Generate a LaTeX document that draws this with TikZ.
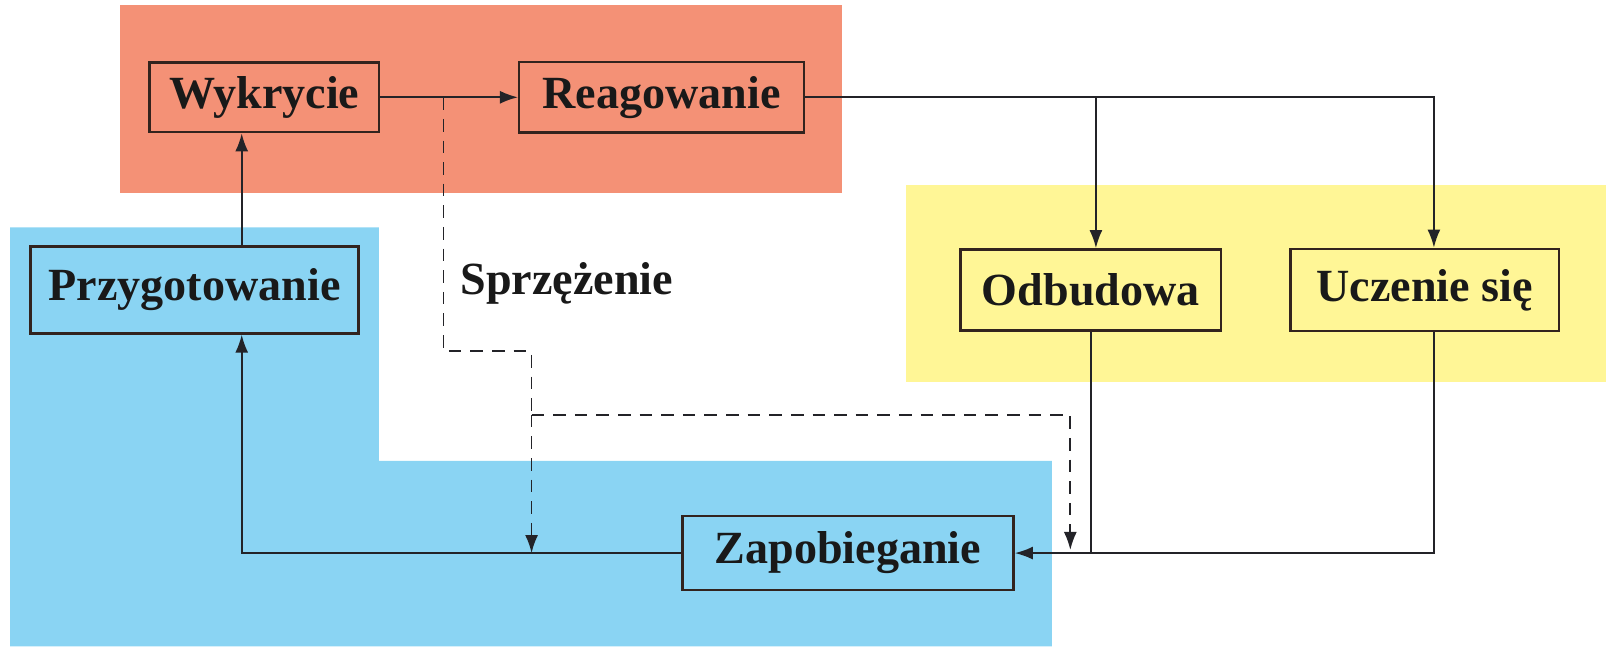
\documentclass[tikz,border=0pt]{standalone}
\usepackage{fontspec}
\setmainfont{Liberation Serif}
\usetikzlibrary{arrows.meta}
\definecolor{redbg}{RGB}{244,145,118}
\definecolor{bluebg}{RGB}{138,212,243}
\definecolor{yellowbg}{RGB}{255,246,150}
\definecolor{boxline}{RGB}{50,35,30}
\definecolor{conn}{RGB}{35,35,40}
\tikzset{
  stagebox/.style={draw=boxline, line width=0.7pt, rectangle, inner sep=0pt,
    font=\fontsize{12.8}{14}\selectfont\bfseries, text=black!90},
  link/.style={draw=conn, line width=0.5pt},
  tip/.style={-{Latex[length=5pt,width=3.6pt]}},
  fb/.style={draw=conn, line width=0.5pt, dash pattern=on 3.5pt off 2.5pt},
  lbl/.style={font=\fontsize{12.8}{14}\selectfont\bfseries, text=black!90, inner sep=0pt}
}
\begin{document}
\begin{tikzpicture}[x=0.01cm,y=-0.01cm]
\useasboundingbox (0,0) rectangle (1568,631);
% backgrounds
\fill[redbg] (117,5) rectangle (822,188);
\fill[bluebg] (10,222) -- (370,222) -- (370,450) -- (1027,450) -- (1027,631) -- (10,631) -- cycle;
\fill[yellowbg] (885,181) rectangle (1568,373);
% nodes
\node[stagebox, minimum width=2.24cm, minimum height=0.68cm] (wyk) at (258,95) {Wykrycie};
\node[stagebox, minimum width=2.78cm, minimum height=0.69cm] (rea) at (646,95) {Reagowanie};
\node[stagebox, minimum width=3.20cm, minimum height=0.85cm] (prz) at (190,283) {Przygotowanie};
\node[stagebox, minimum width=2.54cm, minimum height=0.79cm] (odb) at (1065,283) {Odbudowa};
\node[stagebox, minimum width=2.62cm, minimum height=0.80cm] (ucz) at (1391,283) {Uczenie się};
\node[stagebox, minimum width=3.23cm, minimum height=0.72cm] (zap) at (828,540) {Zapobieganie};
\node[lbl, anchor=west] (spr) at (449,277) {Sprzężenie};
% coordinates
\coordinate (fbstart) at (433,95);
\coordinate (fb1) at (433,343);
\coordinate (fb2) at (519,343);
\coordinate (fb3) at (519,405);
\coordinate (fb4) at (1045,405);
\coordinate (join) at (519,540);
\coordinate (joinr) at (1045,537);
\coordinate (rsplit) at (1070,95);
\coordinate (rend) at (1400,95);
\coordinate (bend) at (1400,540);
\coordinate (ljoin) at (236,540);
% solid connectors
\draw[link, tip] (wyk) -- (rea);
\draw[link, tip] (rea.east) -- (rend) -- (rend |- ucz.north);
\draw[link, tip] (rsplit) -- (rsplit |- odb.north);
\draw[link, tip] (prz.north -| ljoin) -- (wyk.south -| ljoin);
\draw[link, tip] (zap.west) -- (ljoin) -- (prz.south -| ljoin);
\draw[link] (odb.south) -- (odb.south |- bend);
\draw[link, tip] (ucz.south -| bend) -- (bend) -- (zap.east);
% feedback
\draw[fb] (fbstart) -- (fb1) -- (fb2) -- (fb3);
\draw[fb, tip] (fb3) -- (join);
\draw[fb, tip] (fb3) -- (fb4) -- (joinr);
\end{tikzpicture}
\end{document}
